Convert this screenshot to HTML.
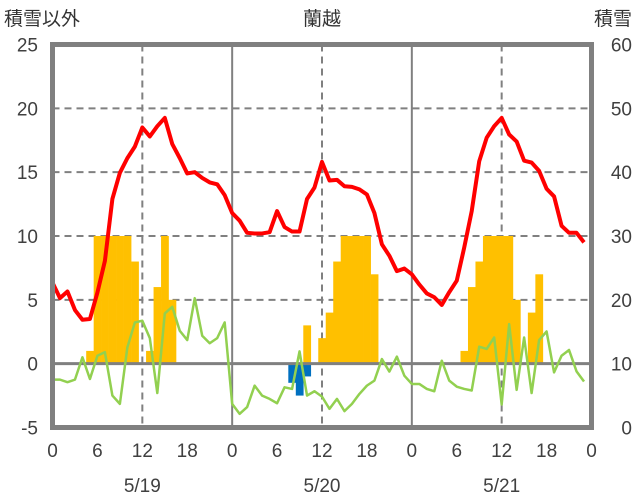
<!DOCTYPE html>
<html><head><meta charset="utf-8"><style>
body{margin:0;background:#fff}
svg{display:block;font-family:"Liberation Sans","Noto Sans CJK JP",sans-serif}
</style></head><body>
<svg id="c" width="636" height="501">
<text x="4" y="25" font-size="19" fill="#333">積雪以外</text>
<text x="322" y="25" font-size="19" fill="#333" text-anchor="middle">蘭越</text>
<text x="632" y="25" font-size="19" fill="#333" text-anchor="end">積雪</text>
<g id="grid"></g><g id="bars"></g><g id="lines"></g><g id="frame"></g><g id="labels"></g>
</svg>
<script>
const leftTicks=[-5,0,5,10,15,20,25];
const rightTicks=[0,10,20,30,40,50,60];
const hourLabels=["0","6","12","18","0","6","12","18","0","6","12","18","0"];
const dayLabels=["5/19","5/20","5/21"];
const temp=[6.35,5.13,5.65,4.2,3.44,3.5,5.57,8.05,12.9,14.95,16.1,17.0,18.5,17.8,18.6,19.25,17.2,16.1,14.9,15.0,14.55,14.2,14.05,13.2,
11.8,11.2,10.25,10.2,10.2,10.3,11.95,10.7,10.35,10.35,12.9,13.8,15.8,14.35,14.4,13.9,13.85,13.65,13.25,11.8,9.35,8.45,7.25,7.45,
7.0,6.2,5.5,5.2,4.6,5.6,6.5,9.1,11.95,15.85,17.7,18.6,19.25,17.95,17.4,15.9,15.75,15.1,13.7,13.1,10.8,10.25,10.25,9.5];
const green=[-1.25,-1.25,-1.45,-1.25,0.5,-1.2,0.62,0.9,-2.5,-3.15,1.27,3.23,3.36,2.0,-2.3,3.93,4.45,2.58,1.85,5.13,2.19,1.6,2.0,3.23,
-3.15,-3.93,-3.4,-1.72,-2.5,-2.76,-3.1,-1.85,-1.98,0.96,-2.5,-2.16,-2.58,-3.54,-2.76,-3.72,-3.15,-2.37,-1.72,-1.33,0.36,-0.62,0.55,-0.94,
-1.59,-1.59,-1.98,-2.16,0.23,-1.33,-1.8,-1.98,-2.1,1.33,1.15,2.05,-3.2,3.1,-2.05,2.05,-2.3,1.85,2.52,-0.68,0.62,1.07,-0.6,-1.4];
// bars on left-axis scale (hour index, value)
const snowHours=[5,6,7,8,9,10,11,13,14,15,16,34,36,37,38,39,40,41,42,43,55,56,57,58,59,60,61,62,64,65];
const snowVals=[1,10,10,10,10,10,8,1,6,10,5,3,2,4,8,10,10,10,10,7,1,6,8,10,10,10,10,5,4,7];
const meltHours=[32,33,34];
const meltVals=[-1.5,-2.5,-1.0];

const X0=52.5,X1=591.5,YT=44.5,YB=427.5,NS='http://www.w3.org/2000/svg';
const xs=h=>X0+h*(X1-X0)/72;
const yl=v=>YB-(v+5)*(YB-YT)/30;
const yr=v=>YB-v*(YB-YT)/60;
function mk(p,t,a){const e=document.createElementNS(NS,t);for(const k in a)e.setAttribute(k,a[k]);document.getElementById(p).appendChild(e);return e;}
leftTicks.forEach(v=>{
 if(v!==-5&&v!==25&&v!==0){const g=mk('grid','line',{x1:X0,x2:X1,y1:yl(v),y2:yl(v),stroke:'#808080','stroke-width':2,'stroke-dasharray':'7,5'});
 
 }
 const t=mk('labels','text',{x:38,y:yl(v)+7,'font-size':19,fill:'#404040','text-anchor':'end'});t.textContent=v;
 
 
});
rightTicks.forEach(v=>{const t=mk('labels','text',{x:632,y:yr(v)+7,'font-size':19,fill:'#404040','text-anchor':'end'});t.textContent=v;
 
 });
[12,36,60].forEach(h=>{const l=mk('grid','line',{x1:xs(h),x2:xs(h),y1:YT,y2:YB,stroke:'#808080','stroke-width':2,'stroke-dasharray':'7,5'});
 
 });
[24,48].forEach(h=>{const l=mk('grid','line',{x1:xs(h),x2:xs(h),y1:YT,y2:YB,stroke:'#808080','stroke-width':2});
 
 });
const bw=(X1-X0)/72;
snowHours.forEach((h,i)=>{const v=snowVals[i];const r=mk('bars','rect',{x:xs(h)-bw/2,y:yl(v),width:bw+0.3,height:yl(0)-yl(v),fill:'#FFC000'});
 
 });
meltHours.forEach((h,i)=>{const v=meltVals[i];const r=mk('bars','rect',{x:xs(h)-bw/2,y:yl(0),width:bw+0.3,height:yl(v)-yl(0),fill:'#0070C0'});
 
 });
const zl=mk('grid','line',{x1:X0,x2:X1,y1:yl(0),y2:yl(0),stroke:'#808080','stroke-width':3});


document.getElementById('bars').after(document.getElementById('grid').lastChild);
const gp=mk('lines','polyline',{points:green.map((v,i)=>xs(i)+','+yl(v)).join(' '),fill:'none',stroke:'#92D050','stroke-width':2.5,'stroke-linejoin':'round'});


const rp=mk('lines','polyline',{points:temp.map((v,i)=>xs(i)+','+yl(v)).join(' '),fill:'none',stroke:'#FF0000','stroke-width':4,'stroke-linejoin':'round'});


const fr=mk('frame','rect',{x:X0,y:YT,width:X1-X0,height:YB-YT,fill:'none',stroke:'#808080','stroke-width':5});


hourLabels.forEach((s,i)=>{const t=mk('labels','text',{x:xs(i*6),y:457,'font-size':19,fill:'#404040','text-anchor':'middle'});t.textContent=s;
 
 });
dayLabels.forEach((s,i)=>{const t=mk('labels','text',{x:xs(i*24+12),y:492,'font-size':19,fill:'#404040','text-anchor':'middle'});t.textContent=s;
 
 });
</script>
</body></html>
